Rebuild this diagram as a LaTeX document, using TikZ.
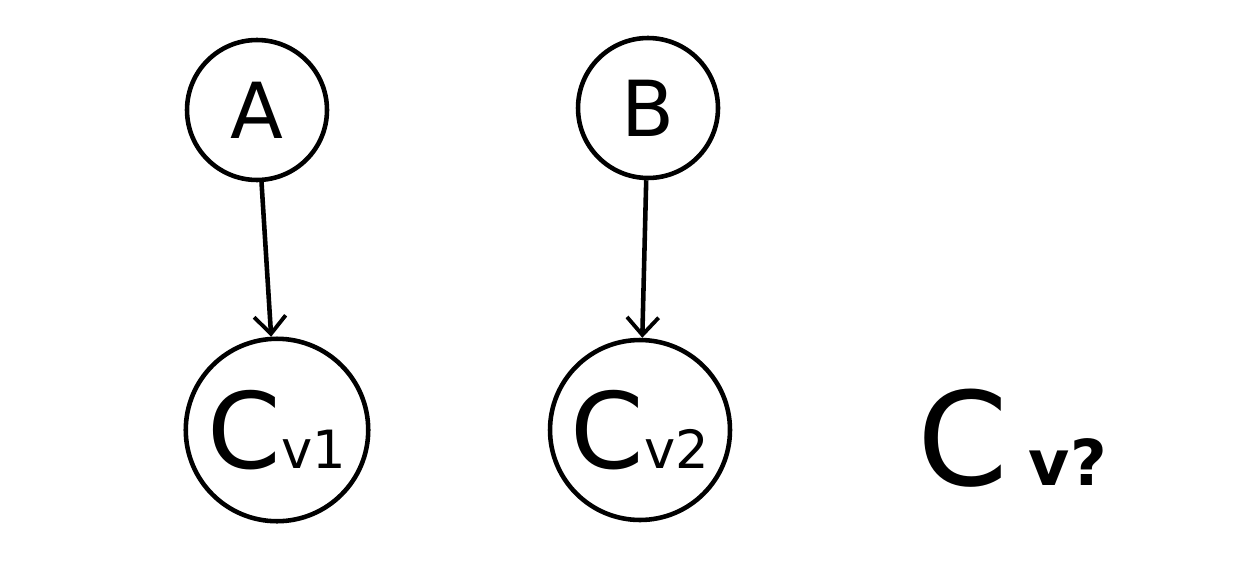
\documentclass[tikz,border=0pt]{standalone}
\usepackage{fontspec}
\setmainfont{DejaVu Sans}
\usetikzlibrary{arrows.meta}
\begin{document}
\begin{tikzpicture}[x=0.02cm,y=-0.02cm,
  circ/.style={draw,circle,line width=2.6pt,inner sep=0pt},
  conn/.style={line width=2.6pt,-{Straight Barb[length=10pt,width=18pt,line width=2.2pt]}},
  big/.style={font=\fontsize{54}{54}\selectfont},
  sub/.style={font=\fontsize{30}{30}\selectfont}]
\useasboundingbox (0,0) rectangle (1260,568);
\node[circ,minimum size=2.8cm] (A) at (257,110) {\fontsize{44}{44}\selectfont A};
\node[circ,minimum size=2.8cm] (B) at (648,108) {\fontsize{44}{44}\selectfont B};
\node[circ,minimum size=3.65cm] (C1) at (277,430) {{\fontsize{60}{60}\selectfont C}{\fontsize{30}{30}\selectfont v1}};
\node[circ,minimum size=3.6cm] (C2) at (640,430) {{\fontsize{60}{60}\selectfont C}{\fontsize{30}{30}\selectfont v2}};
\node (C3) at (1012,438) {{\fontsize{74}{74}\selectfont C}\hspace{12pt}{\fontsize{36}{36}\selectfont\bfseries v?}};
\draw[conn] (A) -- (C1);
\draw[conn] (B) -- (C2);
\end{tikzpicture}
\end{document}
